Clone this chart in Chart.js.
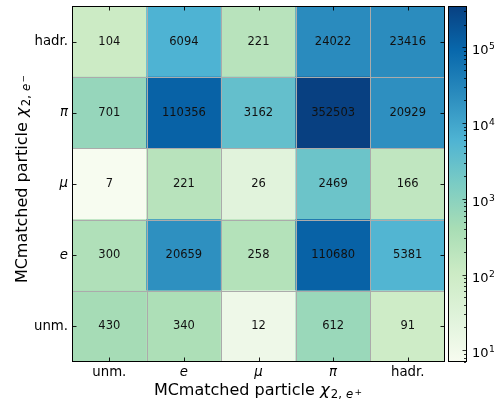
<!DOCTYPE html>
<html>
<head>
<meta charset="utf-8">
<script src="https://cdn.jsdelivr.net/npm/chart.js@4/dist/chart.umd.min.js"></script>
<style>
  html, body { margin: 0; padding: 0; background: #ffffff; }
  canvas { display: block; }
</style>
</head>
<body>
<canvas id="heat" width="498" height="400"></canvas>
<script>
// Particle categories: x = positron candidate, y = electron candidate (rows listed bottom to top)
const xCategories = ['unm.', 'e', 'μ', 'π', 'hadr.'];
const yCategories = ['unm.', 'e', 'μ', 'π', 'hadr.'];
const italicLabels = ['e', 'μ', 'π'];

// Pair counts, one array per y category, one entry per x category
const rowUnm  = [430, 340, 12, 612, 91];
const rowE    = [300, 20659, 258, 110680, 5381];
const rowMu   = [7, 221, 26, 2469, 166];
const rowPi   = [701, 110356, 3162, 352503, 20929];
const rowHadr = [104, 6094, 221, 24022, 23416];
const rows = [rowUnm, rowE, rowMu, rowPi, rowHadr];

// Logarithmic colour range and the labelled decades of the colour bar
const colorMin = 7;
const colorMax = 352503;
const colorbarDecades = [1, 2, 3, 4, 5];

// GnBu colour map
const GNBU = ['#f7fcf0', '#e0f3db', '#ccebc5', '#a8ddb5', '#7bccc4',
              '#4eb3d3', '#2b8cbe', '#0868ac', '#084081'];
const GNBU_RGB = GNBU.map(h => [1, 3, 5].map(i => parseInt(h.substr(i, 2), 16)));

function gnbu(t) {
  t = Math.max(0, Math.min(1, t));
  const s = t * (GNBU_RGB.length - 1);
  const i = Math.min(Math.floor(s), GNBU_RGB.length - 2);
  const f = s - i;
  const a = GNBU_RGB[i], b = GNBU_RGB[i + 1];
  const c = a.map((v, k) => Math.round(v + (b[k] - v) * f));
  return `rgb(${c[0]},${c[1]},${c[2]})`;
}

function colorFor(v) {
  const lo = Math.log10(colorMin), hi = Math.log10(colorMax);
  return gnbu((Math.log10(v) - lo) / (hi - lo));
}

const FAMILY = '"DejaVu Sans", sans-serif';

function tickFont(ctx) {
  const name = ctx.tick ? yCategories[Math.floor(ctx.tick.value)] : '';
  return { family: FAMILY, size: 13.3, style: italicLabels.includes(name) ? 'italic' : 'normal' };
}

// Fixed axis box sizes, without label overhang padding
function fixBox(size) {
  return s => {
    if (s.isHorizontal()) s.height = size; else s.width = size;
    s.paddingTop = 0; s.paddingBottom = 0; s.paddingLeft = 0; s.paddingRight = 0;
  };
}

// Colour bar tick values: every integer multiple of each decade inside the range
const colorbarTicks = [];
for (let e = 0; e <= 6; e++) {
  for (let m = 1; m <= 9; m++) {
    const v = m * Math.pow(10, e);
    if (v >= colorMin && v <= colorMax) colorbarTicks.push(v);
  }
}

// One stacked dataset per row; each cell is a unit-height bar coloured by its count
const datasets = rows.map((row, r) => ({
  label: yCategories[r],
  data: row.map(() => 1),
  backgroundColor: row.map(colorFor),
  borderWidth: 0,
  barPercentage: 1,
  categoryPercentage: 1,
  stack: 'cells'
}));

// Draws a run of text pieces (math-style sub/superscripts), centred on cx
function drawRun(ctx, parts, cx, baseline) {
  let total = 0;
  parts.forEach(p => { ctx.font = p.font; p.w = ctx.measureText(p.text).width + (p.gap || 0); total += p.w; });
  let x = cx - total / 2;
  ctx.textAlign = 'left';
  ctx.textBaseline = 'alphabetic';
  parts.forEach(p => {
    ctx.font = p.font;
    ctx.fillText(p.text, x, baseline + (p.dy || 0));
    x += p.w;
  });
}

function titleParts(sign) {
  return [
    { text: 'MCmatched particle ', font: `16px ${FAMILY}` },
    { text: 'χ', font: `italic 16.5px ${FAMILY}`, gap: 1 },
    { text: '2,', font: `11.7px ${FAMILY}`, dy: 3.4, gap: 4 },
    { text: 'e', font: `italic 11.7px ${FAMILY}`, dy: 3.4, gap: 1.5 },
    { text: sign, font: `9px ${FAMILY}`, dy: -0.5 }
  ];
}

const heatmapDecor = {
  id: 'heatmapDecor',
  afterDatasetsDraw(chart) {
    const { ctx, chartArea: a, scales } = chart;
    const xs = scales.x, ys = scales.y, cb = scales.cb;
    ctx.save();

    // Cell separators
    ctx.strokeStyle = '#ababab';
    ctx.lineWidth = 1;
    ctx.beginPath();
    for (let k = 1; k < xCategories.length; k++) {
      const x = Math.round(xs.getPixelForValue(k - 0.5)) + 0.5;
      ctx.moveTo(x, a.top); ctx.lineTo(x, a.bottom);
    }
    for (let k = 1; k < yCategories.length; k++) {
      const y = Math.round(ys.getPixelForValue(k)) + 0.5;
      ctx.moveTo(a.left, y); ctx.lineTo(a.right, y);
    }
    ctx.stroke();

    // Cell counts
    ctx.fillStyle = '#111111';
    ctx.font = `11.5px ${FAMILY}`;
    ctx.textAlign = 'center';
    ctx.textBaseline = 'middle';
    rows.forEach((row, r) => row.forEach((v, c) => {
      ctx.fillText(String(v), xs.getPixelForValue(c), ys.getPixelForValue(r + 0.5));
    }));

    // Frame
    ctx.strokeStyle = '#000000';
    ctx.lineWidth = 1;
    ctx.strokeRect(a.left + 0.5, a.top + 0.5, a.right - a.left - 1, a.bottom - a.top - 1);

    // Inward tick marks on all four sides
    const tl = 3.5;
    ctx.lineWidth = 0.9;
    ctx.beginPath();
    xCategories.forEach((_, i) => {
      const x = Math.round(xs.getPixelForValue(i)) + 0.5;
      ctx.moveTo(x, a.bottom - 1); ctx.lineTo(x, a.bottom - 1 - tl);
      ctx.moveTo(x, a.top + 1); ctx.lineTo(x, a.top + 1 + tl);
    });
    yCategories.forEach((_, i) => {
      const y = Math.round(ys.getPixelForValue(i + 0.5)) + 0.5;
      ctx.moveTo(a.left + 1, y); ctx.lineTo(a.left + 1 + tl, y);
      ctx.moveTo(a.right - 1, y); ctx.lineTo(a.right - 1 - tl, y);
    });
    ctx.stroke();

    // Colour bar
    const bx = cb.left + 3, bw = 19;
    const top = cb.getPixelForValue(colorMax), bottom = cb.getPixelForValue(colorMin);
    const grad = ctx.createLinearGradient(0, bottom, 0, top);
    GNBU.forEach((c, i) => grad.addColorStop(i / (GNBU.length - 1), c));
    ctx.fillStyle = grad;
    ctx.fillRect(bx, top, bw, bottom - top);
    ctx.strokeStyle = '#000000';
    ctx.lineWidth = 1;
    ctx.strokeRect(bx + 0.5, top + 0.5, bw - 1, bottom - top - 1);
    ctx.lineWidth = 0.8;
    ctx.beginPath();
    colorbarTicks.forEach(v => {
      const y = Math.round(cb.getPixelForValue(v)) + 0.5;
      const major = colorbarDecades.some(d => Math.abs(Math.log10(v) - d) < 1e-9);
      const len = major ? 3.5 : 2;
      ctx.moveTo(bx + bw - 1, y); ctx.lineTo(bx + bw - 1 - len, y);
    });
    ctx.stroke();

    // Colour bar decade labels (10 with raised exponent)
    ctx.fillStyle = '#000000';
    ctx.textAlign = 'left';
    ctx.textBaseline = 'alphabetic';
    colorbarDecades.forEach(d => {
      const y = cb.getPixelForValue(Math.pow(10, d));
      const x0 = bx + bw + 5;
      ctx.font = `13px ${FAMILY}`;
      ctx.fillText('10', x0, y + 7);
      const w = ctx.measureText('10').width;
      ctx.font = `9.2px ${FAMILY}`;
      ctx.fillText(String(d), x0 + w + 0.5, y + 2);
    });

    // Axis titles
    drawRun(ctx, titleParts('+'), 258, 395);
    ctx.save();
    ctx.translate(26.5, 179);
    ctx.rotate(-Math.PI / 2);
    drawRun(ctx, titleParts('−'), 0, 0);
    ctx.restore();

    ctx.restore();
  }
};

new Chart(document.getElementById('heat'), {
  type: 'bar',
  data: { labels: xCategories, datasets },
  plugins: [heatmapDecor],
  options: {
    responsive: false,
    devicePixelRatio: 1,
    animation: false,
    layout: { padding: { top: 6, left: 0, right: 0, bottom: 0 } },
    plugins: { legend: { display: false }, tooltip: { enabled: false } },
    scales: {
      x: {
        type: 'category',
        offset: true,
        stacked: true,
        grid: { display: false, drawTicks: false },
        border: { display: false },
        ticks: { padding: 3, color: '#000000', autoSkip: false, maxRotation: 0, font: tickFont },
        afterFit: fixBox(38)
      },
      y: {
        type: 'linear',
        min: 0,
        max: 5,
        stacked: true,
        grid: { display: false, drawTicks: false },
        border: { display: false },
        afterBuildTicks: s => { s.ticks = yCategories.map((_, i) => ({ value: i + 0.5 })); },
        ticks: {
          padding: 4, color: '#000000', autoSkip: false, font: tickFont,
          callback: v => yCategories[Math.floor(v)]
        },
        afterFit: fixBox(72)
      },
      cb: {
        type: 'logarithmic',
        position: 'right',
        axis: 'y',
        min: colorMin,
        max: colorMax,
        grid: { display: false, drawTicks: false },
        border: { display: false },
        afterBuildTicks: s => { s.ticks = colorbarTicks.map(v => ({ value: v })); },
        ticks: { display: false },
        afterFit: fixBox(53)
      }
    }
  }
});
</script>
</body>
</html>
